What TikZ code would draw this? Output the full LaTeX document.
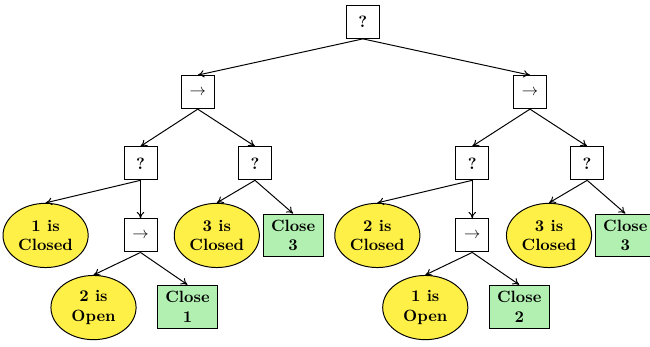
\documentclass[tikz,border=0pt]{standalone}
\usepackage{tikz}
\usetikzlibrary{arrows.meta,positioning,shapes.geometric}
\definecolor{condyellow}{RGB}{255,240,72}
\definecolor{actgreen}{RGB}{178,240,178}
\tikzset{
  ctrl/.style={draw=black, semithick, fill=white, minimum size=0.71cm, inner sep=1pt, font=\bfseries},
  fallback/.style={ctrl},
  sequence/.style={ctrl, font=\normalsize},
  cond/.style={ellipse, draw=black, semithick, fill=condyellow, align=center, inner sep=1pt,
    minimum width=1.83cm, minimum height=1.38cm, font=\bfseries},
  action/.style={draw=black, semithick, fill=actgreen, align=center, inner sep=2pt,
    minimum width=1.29cm, minimum height=0.92cm, font=\bfseries},
  arr/.style={-{To[length=1.4mm,width=1.6mm]}, semithick}
}

\begin{document}
\begin{tikzpicture}[on grid]
  \useasboundingbox (-7.80,0.47) rectangle (6.17,-6.97);
  \node[fallback] (root) {?};
  \node[sequence, below left=1.51cm and 3.55cm of root] (seqA) {$\rightarrow$};
  \node[sequence, below right=1.51cm and 3.59cm of root] (seqB) {$\rightarrow$};

  % left branch
  \node[fallback, below left=1.53cm and 1.23cm of seqA] (fbA1) {?};
  \node[fallback, below right=1.53cm and 1.23cm of seqA] (fbA2) {?};
  \node[cond, below left=1.55cm and 2.04cm of fbA1] (closed1) {1 is\\Closed};
  \node[sequence, below=1.55cm of fbA1] (seqA1) {$\rightarrow$};
  \node[cond, below left=1.55cm and 0.82cm of fbA2] (closed3a) {3 is\\Closed};
  \node[action, below right=1.55cm and 0.82cm of fbA2] (close3a) {Close\\3};
  \node[cond, below left=1.55cm and 1.01cm of seqA1] (open2) {2 is\\Open};
  \node[action, below right=1.53cm and 1.01cm of seqA1] (close1) {Close\\1};

  % right branch
  \node[fallback, below left=1.53cm and 1.24cm of seqB] (fbB1) {?};
  \node[fallback, below right=1.53cm and 1.23cm of seqB] (fbB2) {?};
  \node[cond, below left=1.55cm and 2.04cm of fbB1] (closed2) {2 is\\Closed};
  \node[sequence, below=1.55cm of fbB1] (seqB1) {$\rightarrow$};
  \node[cond, below left=1.55cm and 0.82cm of fbB2] (closed3b) {3 is\\Closed};
  \node[action, below right=1.55cm and 0.82cm of fbB2] (close3b) {Close\\3};
  \node[cond, below left=1.55cm and 1.01cm of seqB1] (open1) {1 is\\Open};
  \node[action, below right=1.53cm and 1.01cm of seqB1] (close2) {Close\\2};

  \foreach \from/\to in {root/seqA, root/seqB, seqA/fbA1, seqA/fbA2, fbA1/closed1,
      fbA1/seqA1, fbA2/closed3a, fbA2/close3a, seqA1/open2, seqA1/close1,
      seqB/fbB1, seqB/fbB2, fbB1/closed2, fbB1/seqB1, fbB2/closed3b, fbB2/close3b,
      seqB1/open1, seqB1/close2}
    \draw[arr] (\from.south) -- (\to.north);
\end{tikzpicture}
\end{document}
